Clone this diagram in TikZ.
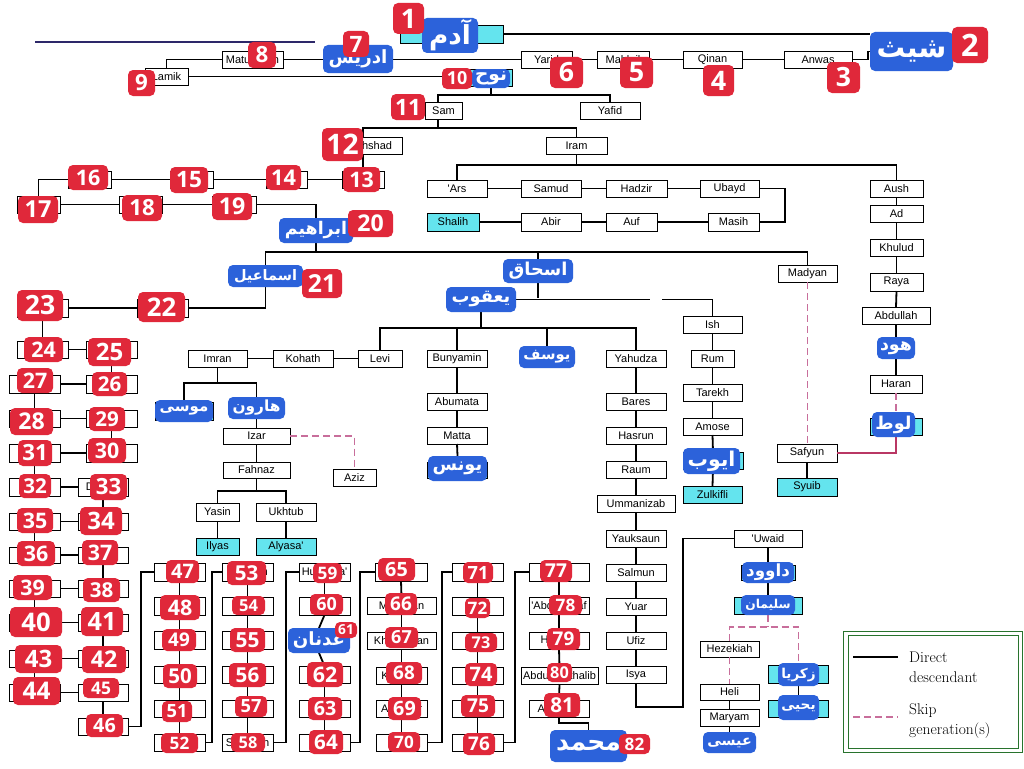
\documentclass[tikz,border=0pt]{standalone}
\usepackage{fontspec}
\usepackage{graphicx}
\TeXXeTstate=1
\newfontfamily\sanf{Liberation Sans}
\newfontfamily\arabicfont[Script=Arabic]{DejaVu Sans}
\newfontfamily\badgefont{Open Sans}
\definecolor{prophetcyan}{RGB}{100,228,238}
\definecolor{labblue}{RGB}{44,98,218}
\definecolor{badgered}{RGB}{224,40,58}
\definecolor{skippink}{RGB}{200,110,155}
\definecolor{lutpink}{RGB}{185,55,100}
\definecolor{legendgreen}{RGB}{40,115,45}
\definecolor{navyline}{RGB}{45,40,105}
\pgfdeclarelayer{fg}
\pgfsetlayers{main,fg}
\newsavebox\arbox
\newdimen\arwd
\newdimen\arht
\tikzset{
 boxst/.style={draw=black, line width=0.8pt, fill=white, inner sep=0pt, outer sep=0pt, font=\sanf\fontsize{11}{12}\selectfont, text=black},
 cyanst/.style={fill=prophetcyan},
 arlab/.style={fill=labblue, rounded corners=5pt, inner sep=0pt, outer sep=0pt, text=white},
 badge/.style={fill=badgered, rounded corners=5pt, inner sep=0pt, outer sep=0pt, text=white, font=\badgefont\bfseries},
 conn/.style={line width=1.8pt, black},
 skipline/.style={line width=1.8pt, skippink, dash pattern=on 7pt off 4pt},
 lutline/.style={line width=1.8pt, lutpink},
 legtext/.style={font=\fontsize{15.5}{18}\selectfont, inner sep=0pt, anchor=base west},
}
\newcommand\BX[7][]{%
 \node[boxst,#1,minimum width={#5-#3},minimum height={#6-#4}] (#2) at ({(#3+#5)/2},{(#4+#6)/2}) {#7};}
% fitted Arabic text: #1 width, #2 height, #3 text
\newcommand\ARtext[3]{%
 \pgfmathsetmacro\fs{0.9*(#2)}%
 \sbox\arbox{\arabicfont\bfseries\fontsize{\fs pt}{\fs pt}\selectfont\beginR #3\endR}%
 \arwd=\wd\arbox \arht=\ht\arbox \advance\arht by \dp\arbox
 \pgfmathsetmacro\sc{min(1.2,0.84*(#1)/\arwd,0.9*(#2)/\arht)}%
 \scalebox{\sc}{\usebox\arbox}}
\newcommand\AR[6]{%
 \node[arlab,minimum width={#4-#2},minimum height={#5-#3}] (#1) at ({(#2+#4)/2},{(#3+#5)/2}) {\ARtext{#4-#2}{#5-#3}{#6}};}
\newcommand\BG[5]{%
 \pgfmathsetmacro\bh{0.62*(#4-#2)}%
 \node[badge,minimum width={#3-#1},minimum height={#4-#2}] (n#5) at ({(#1+#3)/2},{(#2+#4)/2}) {\resizebox{!}{\bh pt}{#5}};}
\begin{document}
\begin{tikzpicture}[x=1pt,y=-1pt]
\fill[white] (0,0) rectangle (1024,768);
\useasboundingbox (0,0) rectangle (1024,768);
% ---------- boxes ----------
\BX{yarid}{521}{51}{572}{68}{Yarid}
\BX{mahlail}{597}{51}{649}{68}{Mahlail}
\BX{qinan}{683}{51}{742}{68}{Qinan}
\BX{anwas}{784}{51}{852}{68}{Anwas}
\BX{matu}{222}{51}{283}{68}{Matushalih}
\BX{lamik}{145}{68}{188}{85}{Lamik}
\BX[cyanst]{adambox}{400}{25}{503}{43}{}
\BX[cyanst]{nuhbox}{460}{69}{512}{86}{}
\BX{sam}{425}{102}{462}{119}{Sam}
\BX{yafid}{580}{102}{640}{119}{Yafid}
\BX{arfa}{360}{137}{402}{154}{\makebox[42pt][r]{Arfakhshad\hspace{10pt}}}
\BX{iram}{546}{137}{607}{154}{Iram}
\BX{b13}{342}{171}{384}{188}{}
\BX{b14}{266}{171}{307}{188}{}
\BX{b15}{170}{171}{213}{188}{}
\BX{b16}{68}{171}{111}{188}{}
\BX{b17}{17}{196}{60}{213}{}
\BX{b18}{119}{196}{162}{213}{}
\BX{b19}{212}{196}{256}{213}{}
\BX{ars}{427}{180}{487}{197}{'Ars}
\BX{samud}{521}{180}{581}{197}{Samud}
\BX{hadzir}{606}{180}{667}{197}{Hadzir}
\BX{ubayd}{700}{180}{759}{197}{Ubayd}
\BX[cyanst]{shalih}{427}{213}{479}{231}{Shalih}
\BX{abir}{521}{213}{581}{231}{Abir}
\BX{auf}{606}{213}{657}{231}{Auf}
\BX{masih}{708}{213}{759}{231}{Masih}
\BX{aush}{870}{180}{923}{197}{Aush}
\BX{ad}{870}{205}{923}{222}{Ad}
\BX{khulud}{870}{239}{923}{256}{Khulud}
\BX{raya}{870}{273}{923}{291}{Raya}
\BX{abdullah}{862}{307}{930}{324}{Abdullah}
\BX{haran}{870}{375}{922}{393}{Haran}
\BX[cyanst]{lutbox}{870}{418}{922}{435}{}
\BX{madyan}{778}{265}{837}{282}{Madyan}
\BX{safyun}{777}{444}{837}{462}{Safyun}
\BX[cyanst]{syuib}{777}{478}{837}{496}{Syuib}
\BX{b22}{137}{299}{188}{317}{}
\BX{b23}{17}{299}{68}{317}{}
\BX{ish}{683}{316}{742}{333}{Ish}
\BX{rum}{691}{350}{734}{367}{Rum}
\BX{tarekh}{683}{384}{742}{401}{Tarekh}
\BX{amose}{683}{418}{742}{435}{Amose}
\BX[cyanst]{ayyubbox}{683}{452}{743}{469}{}
\BX[cyanst]{zulkifli}{683}{486}{742}{503}{Zulkifli}
\BX{levi}{358}{350}{402}{367}{Levi}
\BX{kohath}{273}{350}{333}{367}{Kohath}
\BX{imran}{188}{350}{247}{367}{Imran}
\BX{bunyamin}{427}{350}{487}{367}{Bunyamin}
\BX{yahudza}{606}{350}{666}{367}{Yahudza}
\BX{abumata}{427}{393}{487}{410}{Abumata}
\BX{matta}{427}{427}{487}{444}{Matta}
\BX[cyanst]{yunusbox}{427}{462}{487}{478}{}
\BX{bares}{606}{393}{666}{410}{Bares}
\BX{hasrun}{606}{427}{666}{444}{Hasrun}
\BX{raum}{606}{461}{666}{478}{Raum}
\BX{ummanizab}{597}{495}{675}{512}{Ummanizab}
\BX{yauksaun}{606}{530}{666}{547}{Yauksaun}
\BX{salmun}{606}{564}{666}{581}{Salmun}
\BX{yuar}{606}{598}{666}{615}{Yuar}
\BX{ufiz}{606}{632}{666}{649}{Ufiz}
\BX{isya}{606}{666}{666}{683}{Isya}
\BX{uwaid}{734}{530}{802}{547}{'Uwaid}
\BX[cyanst]{dawudbox}{741}{565}{795}{580}{}
\BX[cyanst]{sulaimanbox}{734}{597}{802}{614}{}
\BX{hezekiah}{700}{641}{759}{657}{Hezekiah}
\BX{heli}{700}{684}{759}{700}{Heli}
\BX{maryam}{700}{709}{759}{726}{Maryam}
\BX[cyanst]{zakariyabox}{768}{665}{828}{683}{}
\BX[cyanst]{yahyabox}{768}{700}{828}{717}{}
\BX[cyanst]{musabox}{155}{402}{213}{420}{}
\BX{izar}{223}{428}{290}{444}{Izar}
\BX{aziz}{333}{469}{376}{486}{Aziz}
\BX{fahnaz}{223}{462}{290}{478}{Fahnaz}
\BX{yasin}{196}{503}{239}{521}{Yasin}
\BX{ukhtub}{256}{503}{316}{521}{Ukhtub}
\BX[cyanst]{ilyas}{196}{538}{239}{555}{Ilyas}
\BX[cyanst]{alyasa}{256}{538}{316}{555}{Alyasa'}
% left zig-zag
\BX{b24}{17}{341}{68}{358}{}
\BX{b25}{86}{341}{137}{358}{}
\BX{b26}{86}{375}{137}{393}{}
\BX{b27}{9}{375}{60}{393}{}
\BX{b28}{9}{410}{60}{427}{}
\BX{b29}{86}{410}{137}{427}{}
\BX{b30}{86}{444}{137}{462}{}
\BX{b31}{9}{444}{60}{462}{}
\BX{b32}{9}{478}{60}{496}{}
\BX{b33}{78}{478}{128}{496}{Daisan}
\BX{b34}{78}{513}{128}{530}{}
\BX{b35}{9}{513}{60}{530}{}
\BX{b36}{9}{547}{60}{563}{}
\BX{b37}{78}{547}{128}{563}{}
\BX{b38}{78}{580}{128}{597}{Yaldasi}
\BX{b39}{9}{580}{60}{597}{}
\BX{b40}{9}{614}{60}{631}{}
\BX{b41}{78}{614}{128}{631}{}
\BX{b42}{78}{650}{128}{667}{}
\BX{b43}{9}{650}{60}{667}{}
\BX{b44}{9}{684}{60}{701}{}
\BX{b45}{78}{684}{128}{701}{}
\BX{b46}{78}{718}{128}{735}{}
% columns
\BX{b47}{154}{563}{205}{581}{}
\BX{b48}{154}{597}{205}{615}{}
\BX{b49}{154}{631}{205}{649}{}
\BX{b50}{154}{666}{205}{683}{}
\BX{b51}{154}{700}{205}{717}{}
\BX{b52}{154}{734}{205}{751}{}
\BX{b53}{222}{563}{273}{581}{'Awwam}
\BX{b54}{222}{597}{273}{615}{}
\BX{b55}{222}{631}{273}{649}{}
\BX{b56}{222}{666}{273}{683}{}
\BX{b57}{222}{700}{273}{717}{}
\BX{b58}{222}{734}{273}{751}{Salaman}
\BX{b59}{299}{563}{350}{581}{Humaisa'}
\BX{b60}{299}{597}{350}{615}{}
\BX{b62}{299}{666}{350}{683}{}
\BX{b63}{299}{700}{350}{717}{}
\BX{b64}{299}{734}{350}{751}{}
\BX{b65}{375}{563}{427}{581}{}
\BX{b66}{367}{597}{436}{614}{Mudrikan}
\BX{b67}{367}{632}{436}{649}{Khuzaiman}
\BX{b68}{376}{667}{427}{684}{Kinanah}
\BX{b69}{376}{700}{427}{717}{An-Nadr}
\BX{b70}{376}{734}{427}{751}{}
\BX{b71}{452}{563}{503}{581}{}
\BX{b72}{452}{597}{503}{615}{}
\BX{b73}{452}{632}{503}{649}{}
\BX{b74}{452}{667}{503}{684}{}
\BX{b75}{452}{700}{503}{717}{}
\BX{b76}{452}{734}{503}{751}{}
\BX{b77}{529}{563}{589}{581}{}
\BX{b78}{529}{597}{589}{614}{'Abd Manaf}
\BX{b79}{529}{632}{589}{649}{Hasyim}
\BX{b80}{521}{667}{598}{684}{Abdul Muthalib}
\BX{b81}{529}{700}{589}{717}{Abdullah}
% ---------- labels and badges ----------
\begin{pgfonlayer}{fg}
\AR{adam}{422}{18}{478}{53}{آدم}
\AR{seth}{870}{32}{953}{71}{شيث}
\AR{idris}{323}{45}{393}{73}{ادريس}
\AR{nuh}{472}{69}{510}{88}{نوح}
\AR{ibrahim}{279}{218}{353}{243}{ابراهيم}
\AR{ismail}{228}{265}{303}{287}{اسماعيل}
\AR{ishaq}{503}{259}{573}{283}{اسحاق}
\AR{yaqub}{446}{287}{516}{312}{يعقوب}
\AR{yusuf}{519}{346}{575}{368}{يوسف}
\AR{musa}{155}{400}{213}{422}{موسى}
\AR{harun}{228}{397}{285}{419}{هارون}
\AR{yunus}{428}{456}{487}{481}{يونس}
\AR{ayyub}{683}{448}{740}{474}{ايوب}
\AR{hud}{877}{337}{915}{359}{هود}
\AR{lut}{872}{412}{915}{437}{لوط}
\AR{dawud}{742}{562}{794}{583}{داوود}
\AR{sulaiman}{741}{595}{795}{615}{سليمان}
\AR{zakariya}{778}{663}{819}{686}{زكريا}
\AR{yahya}{778}{695}{819}{720}{يحيى}
\AR{isa}{703}{732}{756}{753}{عيسى}
\AR{adnan}{288}{628}{350}{653}{عدنان}
\AR{muhammad}{550}{730}{627}{762}{محمد}
\BG{393}{3}{424}{34}{1}
\BG{952}{27}{988}{63}{2}
\BG{827}{62}{860}{93}{3}
\BG{703}{65}{734}{96}{4}
\BG{620}{57}{653}{88}{5}
\BG{550}{57}{583}{88}{6}
\BG{343}{31}{369}{57}{7}
\BG{248}{42}{276}{68}{8}
\BG{128}{70}{155}{96}{9}
\BG{442}{68}{472}{89}{10}
\BG{391}{94}{425}{120}{11}
\BG{322}{128}{363}{161}{12}
\BG{343}{167}{380}{192}{13}
\BG{266}{165}{301}{190}{14}
\BG{170}{167}{208}{193}{15}
\BG{68}{165}{108}{190}{16}
\BG{18}{196}{58}{223}{17}
\BG{122}{195}{162}{221}{18}
\BG{212}{193}{252}{220}{19}
\BG{348}{210}{393}{237}{20}
\BG{302}{269}{342}{298}{21}
\BG{138}{292}{185}{322}{22}
\BG{17}{290}{63}{321}{23}
\BG{24}{337}{63}{362}{24}
\BG{88}{338}{131}{366}{25}
\BG{92}{372}{127}{396}{26}
\BG{17}{368}{53}{393}{27}
\BG{10}{408}{53}{435}{28}
\BG{89}{407}{125}{431}{29}
\BG{88}{438}{126}{463}{30}
\BG{18}{440}{52}{466}{31}
\BG{19}{474}{51}{498}{32}
\BG{90}{474}{127}{500}{33}
\BG{80}{507}{122}{535}{34}
\BG{17}{508}{53}{533}{35}
\BG{17}{541}{55}{566}{36}
\BG{82}{540}{118}{565}{37}
\BG{83}{578}{120}{602}{38}
\BG{13}{575}{52}{600}{39}
\BG{10}{607}{62}{637}{40}
\BG{81}{607}{123}{636}{41}
\BG{82}{646}{126}{673}{42}
\BG{15}{645}{62}{673}{43}
\BG{13}{677}{60}{705}{44}
\BG{83}{678}{119}{698}{45}
\BG{86}{714}{123}{737}{46}
\BG{166}{560}{199}{583}{47}
\BG{160}{595}{200}{620}{48}
\BG{162}{629}{196}{651}{49}
\BG{163}{664}{197}{688}{50}
\BG{162}{701}{192}{722}{51}
\BG{161}{733}{198}{753}{52}
\BG{227}{561}{266}{585}{53}
\BG{232}{596}{265}{615}{54}
\BG{230}{628}{265}{652}{55}
\BG{229}{663}{266}{687}{56}
\BG{235}{696}{267}{717}{57}
\BG{231}{733}{265}{752}{58}
\BG{313}{563}{342}{583}{59}
\BG{310}{594}{343}{615}{60}
\BG{335}{622}{357}{638}{61}
\BG{307}{662}{343}{687}{62}
\BG{308}{697}{342}{720}{63}
\BG{309}{730}{343}{754}{64}
\BG{378}{558}{415}{581}{65}
\BG{385}{593}{417}{615}{66}
\BG{385}{627}{418}{648}{67}
\BG{386}{662}{422}{684}{68}
\BG{388}{697}{421}{720}{69}
\BG{388}{732}{420}{752}{70}
\BG{463}{562}{493}{583}{71}
\BG{465}{598}{490}{618}{72}
\BG{465}{633}{497}{652}{73}
\BG{465}{663}{497}{686}{74}
\BG{461}{695}{495}{717}{75}
\BG{463}{733}{495}{755}{76}
\BG{540}{560}{572}{582}{77}
\BG{549}{595}{582}{615}{78}
\BG{547}{628}{580}{650}{79}
\BG{547}{663}{572}{682}{80}
\BG{544}{693}{580}{717}{81}
\BG{619}{734}{650}{754}{82}
\end{pgfonlayer}
% ---------- connectors ----------
\coordinate (nav1) at (35,42);
\coordinate (nav2) at (315,42);
\draw[navyline, line width=2pt] (nav1) -- (nav2);
\draw[conn] (adambox.east) -- (adambox.east -| seth.west);
\draw[conn] (anwas.east) -- ++(16,0) |- (seth.west);
\draw[conn] (anwas.west) -- (qinan.east);
\draw[conn] (qinan.west) -- (mahlail.east);
\draw[conn] (mahlail.west) -- (yarid.east);
\draw[conn] (yarid.west) -- (yarid.west -| idris.east);
\draw[conn] (matu.east) -- (matu.east -| idris.west);
\draw[conn] (matu.west) -| (lamik.north);
\draw[conn] (lamik.east) -- (lamik.east -| nuhbox.west);
\draw[conn] (nuh.south) -- ++(0,7);
\draw[conn] ([xshift=-5.5pt]sam.north) -- ++(0,-7) -| (yafid.north);
\draw[conn] ([xshift=-5.5pt]sam.south) -- ++(0,9);
\draw[conn] ([xshift=-18pt]arfa.north) -- ++(0,-9) -| (iram.north);
\draw[conn] (b13.north) -- (b13.north |- arfa.south);
\draw[conn] (b13.west) -- (b14.east);
\draw[conn] (b14.west) -- (b15.east);
\draw[conn] (b15.west) -- (b16.east);
\draw[conn] (b16.west) -| (b17.north);
\draw[conn] (b17.east) -- (b18.west);
\draw[conn] (b18.east) -- (b19.west);
\draw[conn] (b19.east) -| (ibrahim.north);
\draw[conn] (ibrahim.south) -- ++(0,9);
\draw[conn] (ismail.north) -- ++(0,-13) -| (madyan.north);
\draw[conn] (ishaq.north) -- ++(0,-7);
\draw[conn] (ismail.south) |- (b22.east);
\draw[conn] (b22.west) -- (b23.east);
\draw[conn] (b23.south) -- (b24.north);
\draw[conn] (b24.east) -- (b25.west);
\draw[conn] (b25.south) -- (b26.north);
\draw[conn] (b26.west) -- (b27.east);
\draw[conn] (b27.south) -- (b28.north);
\draw[conn] (b28.east) -- (b29.west);
\draw[conn] (b29.south) -- (b30.north);
\draw[conn] (b30.west) -- (b31.east);
\draw[conn] (b31.south) -- (b32.north);
\draw[conn] (b32.east) -- (b33.west);
\draw[conn] (b33.south) -- (b34.north);
\draw[conn] (b34.west) -- (b35.east);
\draw[conn] (b35.south) -- (b36.north);
\draw[conn] (b36.east) -- (b37.west);
\draw[conn] (b37.south) -- (b38.north);
\draw[conn] (b38.west) -- (b39.east);
\draw[conn] (b39.south) -- (b40.north);
\draw[conn] (b40.east) -- (b41.west);
\draw[conn] (b41.south) -- (b42.north);
\draw[conn] (b42.west) -- (b43.east);
\draw[conn] (b43.south) -- (b44.north);
\draw[conn] (b44.east) -- (b45.west);
\draw[conn] (b45.south) -- (b46.north);
\draw[conn] (b46.east) -- ++(13,0) |- (b47.west);
\draw[conn] (b47.south) -- (b48.north);
\draw[conn] (b48.south) -- (b49.north);
\draw[conn] (b49.south) -- (b50.north);
\draw[conn] (b50.south) -- (b51.north);
\draw[conn] (b51.south) -- (b52.north);
\draw[conn] (b52.east) -- ++(7,0) |- (b53.west);
\draw[conn] (b53.south) -- (b54.north);
\draw[conn] (b54.south) -- (b55.north);
\draw[conn] (b55.south) -- (b56.north);
\draw[conn] (b56.south) -- (b57.north);
\draw[conn] (b57.south) -- (b58.north);
\draw[conn] (b58.east) -- ++(13,0) |- (b59.west);
\draw[conn] (b59.south) -- (b60.north);
\draw[conn] (b60.south) -- (adnan.north);
\draw[conn] (adnan.south) -- (b62.north);
\draw[conn] (b62.south) -- (b63.north);
\draw[conn] (b63.south) -- (b64.north);
\draw[conn] (b64.east) -- ++(10,0) |- (b65.west);
\draw[conn] (b65.south) -- (b66.north);
\draw[conn] (b66.south) -- (b67.north);
\draw[conn] (b67.south) -- (b68.north);
\draw[conn] (b68.south) -- (b69.north);
\draw[conn] (b69.south) -- (b70.north);
\draw[conn] (b70.east) -- ++(15,0) |- (b71.west);
\draw[conn] (b71.south) -- (b72.north);
\draw[conn] (b72.south) -- (b73.north);
\draw[conn] (b73.south) -- (b74.north);
\draw[conn] (b74.south) -- (b75.north);
\draw[conn] (b75.south) -- (b76.north);
\draw[conn] (b76.east) -- ++(12,0) |- (b77.west);
\draw[conn] (b77.south) -- (b78.north);
\draw[conn] (b78.south) -- (b79.north);
\draw[conn] (b79.south) -- (b80.north);
\draw[conn] (b80.south) -- (b81.north);
\draw[conn] (b81.south) -- ++(0,6) -| (muhammad.north);
% Iram
\draw[conn] (iram.south) -- ++(0,11);
\draw[conn] (ars.north) -- ++(0,-15) -| (aush.north);
\draw[conn] (ars.east) -- (samud.west);
\draw[conn] (samud.east) -- (hadzir.west);
\draw[conn] (hadzir.east) -- (ubayd.west);
\draw[conn] (ubayd.east) -- ++(26,0) |- (masih.east);
\draw[conn] (masih.west) -- (auf.east);
\draw[conn] (auf.west) -- (abir.east);
\draw[conn] (abir.west) -- (shalih.east);
\draw[conn] (aush.south) -- (ad.north);
\draw[conn] (ad.south) -- (khulud.north);
\draw[conn] (khulud.south) -- (raya.north);
\draw[conn] (raya.south) -- (abdullah.north);
\draw[conn] (abdullah.south) -- (hud.north);
\draw[conn] (hud.south) -- (haran.north);
\draw[skipline] (haran.south) -- (haran.south |- lut.north);
\draw[lutline] (lutbox.south) |- (safyun.east);
\draw[skipline] (madyan.south) -- (madyan.south |- safyun.north);
\draw[conn] (safyun.south) -- (syuib.north);
% Ishaq
\draw[conn] (ishaq.south) -- ++(0,15);
\draw[conn] (yaqub.east) -- ++(134,0);
\draw[conn] (ish.north) |- ([xshift=146pt]yaqub.east);
\draw[conn] (ish.south) -- (rum.north);
\draw[conn] (rum.south) -- (tarekh.north);
\draw[conn] (tarekh.south) -- (amose.north);
\draw[conn] (amose.south) -- (ayyubbox.north);
\draw[conn] (ayyubbox.south) -- (zulkifli.north);
\draw[conn] (yaqub.south) -- ++(0,16);
\draw[conn] (levi.north) -- ++(0,-22) -| (yahudza.north);
\draw[conn] (bunyamin.north) -- ++(0,-22);
\draw[conn] (yusuf.north) -- ++(0,-18);
\draw[conn] (levi.west) -- (kohath.east);
\draw[conn] (kohath.west) -- (imran.east);
\draw[conn] (imran.south) -- ++(0,16);
\draw[conn] (musa.north) -- ++(0,-17) -| (harun.north);
\draw[conn] (harun.south) -- (izar.north);
\draw[skipline] (izar.east) -| (aziz.north);
\draw[conn] (izar.south) -- (fahnaz.north);
\draw[conn] (fahnaz.south) -- ++(0,13);
\draw[conn] (yasin.north) -- ++(0,-12) -| (ukhtub.north);
\draw[conn] (yasin.south) -- (ilyas.north);
\draw[conn] (ukhtub.south) -- (alyasa.north);
\draw[conn] (bunyamin.south) -- (abumata.north);
\draw[conn] (abumata.south) -- (matta.north);
\draw[conn] (matta.south) -- (yunus.north);
\draw[conn] (yahudza.south) -- (bares.north);
\draw[conn] (bares.south) -- (hasrun.north);
\draw[conn] (hasrun.south) -- (raum.north);
\draw[conn] (raum.south) -- (ummanizab.north);
\draw[conn] (ummanizab.south) -- (yauksaun.north);
\draw[conn] (yauksaun.south) -- (salmun.north);
\draw[conn] (salmun.south) -- (yuar.north);
\draw[conn] (yuar.south) -- (ufiz.north);
\draw[conn] (ufiz.south) -- (isya.north);
\draw[conn] (isya.south) |- ++(47,24) |- (uwaid.west);
\draw[conn] (uwaid.south) -- (dawud.north);
\draw[conn] (dawud.south) -- (sulaiman.north);
\draw[skipline] (sulaiman.south) -- ++(0,12);
\draw[skipline] (hezekiah.north) -- ++(0,-14) -| (zakariya.north);
\draw[skipline] (hezekiah.south) -- (heli.north);
\draw[conn] (heli.south) -- (maryam.north);
\draw[conn] (maryam.south) -- (isa.north);
\draw[conn] (zakariya.south) -- (yahya.north);
% ---------- legend ----------
\draw[legendgreen, line width=0.9pt] (843,631) rectangle (1022,752);
\draw[legendgreen, line width=0.9pt] (848,635) rectangle (1018,748);
\coordinate (la) at (853,657);
\coordinate (lb) at (898,657);
\coordinate (lc) at (853,717);
\coordinate (ld) at (898,717);
\draw[conn] (la) -- (lb);
\draw[skipline] (lc) -- (ld);
\node[legtext] (lt1) at (909,662) {Direct};
\node[legtext] (lt2) at (909,682) {descendant};
\node[legtext] (lt3) at (909,714) {Skip};
\node[legtext] (lt4) at (909,734) {generation(s)};
\end{tikzpicture}
\end{document}
